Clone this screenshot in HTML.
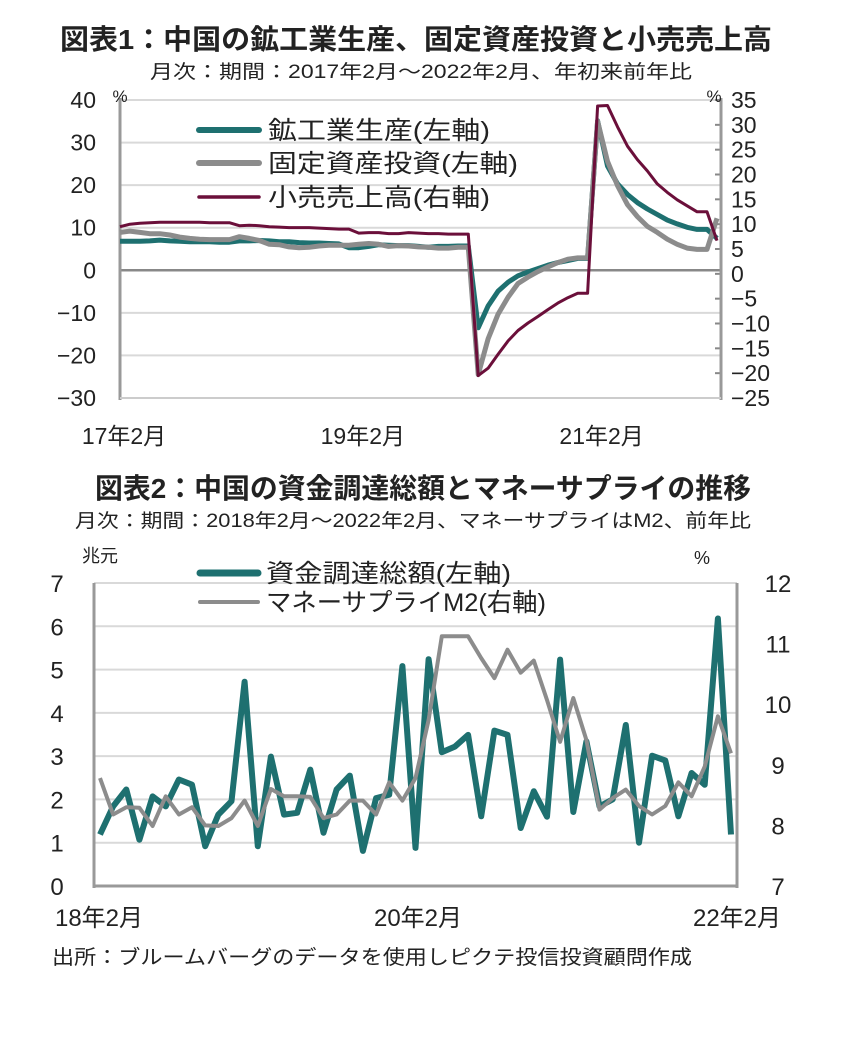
<!DOCTYPE html>
<html><head><meta charset="utf-8">
<style>
body{margin:0;background:#fff;}
svg{display:block;font-family:"Liberation Sans","Noto Sans CJK JP",sans-serif;}
</style></head>
<body>
<svg id="c" width="854" height="1052" viewBox="0 0 854 1052">
<text x="60" y="49" textLength="712" lengthAdjust="spacingAndGlyphs" font-size="28" font-weight="bold" fill="#222">図表1：中国の鉱工業生産、固定資産投資と小売売上高</text>
<text x="150" y="78" textLength="542" lengthAdjust="spacingAndGlyphs" font-size="19" fill="#222">月次：期間：2017年2月～2022年2月、年初来前年比</text>
<text x="95" y="498" textLength="656" lengthAdjust="spacingAndGlyphs" font-size="28" font-weight="bold" fill="#222">図表2：中国の資金調達総額とマネーサプライの推移</text>
<text x="75" y="527" textLength="676" lengthAdjust="spacingAndGlyphs" font-size="19" fill="#222">月次：期間：2018年2月～2022年2月、マネーサプライはM2、前年比</text>
<text x="52" y="964" textLength="640" lengthAdjust="spacingAndGlyphs" font-size="20" fill="#222">出所：ブルームバーグのデータを使用しピクテ投信投資顧問作成</text>
<g id="g1"></g><g id="g2"></g>
</svg>
<script>
// Chart 1 data (monthly, index 0 = 2017-02)
const c1XTicks = ["17年2月","19年2月","21年2月"];
const c1XTickIdx = [0,24,48];
const c1LeftTicks = [40,30,20,10,0,-10,-20,-30];
const c1RightTicks = [35,30,25,20,15,10,5,0,-5,-10,-15,-20,-25];
const industrial = [6.8,6.8,6.8,6.9,7.1,6.9,6.8,6.7,6.7,6.7,6.6, 6.6,6.9,6.9,7.0,6.9,6.7,6.7,6.5,6.4,6.4,6.3,6.2, 5.3,5.3,5.6,6.0,5.9,5.8,5.8,5.6,5.4,5.6,5.6,5.7, 5.7,-13.5,-8.4,-4.9,-2.8,-1.3,-0.4,0.4,1.2,1.8,2.3,2.8,2.8, 35.1,24.5,20.3,17.8,15.9,14.4,13.1,11.8,10.9,10.1,9.6,9.6,7.5];
const fixedInv = [8.9,9.2,8.9,8.6,8.6,8.3,7.8,7.5,7.3,7.2,7.2, 7.2,7.9,7.5,7.0,6.1,6.0,5.5,5.3,5.4,5.7,5.9,5.9, 5.9,6.1,6.3,6.1,5.6,5.8,5.7,5.5,5.4,5.2,5.2,5.4, 5.4,-24.5,-16.1,-10.3,-6.3,-3.1,-1.6,-0.3,0.8,1.8,2.6,2.9,2.9, 35.0,25.6,19.9,15.4,12.6,10.3,8.9,7.3,6.1,5.2,4.9,4.9,12.2];
const retail = [9.5,10.0,10.2,10.3,10.4,10.4,10.4,10.4,10.4,10.3,10.3, 10.3,9.7,9.8,9.7,9.5,9.4,9.3,9.3,9.3,9.2,9.1,9.0, 9.0,8.2,8.3,8.3,8.1,8.1,8.3,8.2,8.1,8.1,8.0,8.0, 8.0,-20.5,-19.0,-16.2,-13.5,-11.4,-9.9,-8.6,-7.2,-5.9,-4.8,-3.9,-3.9, 33.8,33.9,29.6,25.7,23.0,20.7,18.1,16.4,14.9,13.7,12.5,12.5,6.7];
// Chart 2 data (monthly, index 0 = 2018-02)
const c2XTicks = ["18年2月","20年2月","22年2月"];
const c2XTickIdx = [0,24,48];
const c2LeftTicks = [0,1,2,3,4,5,6,7];
const c2RightTicks = [7,8,9,10,11,12];
const financing = [1.19,1.84,2.23,1.07,2.07,1.84,2.46,2.34,0.92,1.65,1.96,4.72,0.92,2.99,1.65,1.69,2.69,1.23,2.23,2.55,0.81,2.03,2.11,5.08,0.88,5.24,3.09,3.22,3.49,1.61,3.59,3.49,1.34,2.19,1.6,5.23,1.71,3.34,1.84,2.0,3.72,1.0,3.01,2.9,1.61,2.61,2.34,6.18,1.19];
const m2 = [8.78,8.18,8.3,8.29,7.99,8.48,8.18,8.3,8.0,7.99,8.12,8.41,7.99,8.6,8.48,8.48,8.47,8.12,8.18,8.41,8.41,8.18,8.71,8.41,8.78,9.74,11.12,11.12,11.12,10.76,10.43,10.9,10.52,10.72,10.07,9.38,10.1,9.41,8.26,8.45,8.59,8.32,8.18,8.32,8.71,8.48,8.97,9.8,9.19];

const NS="http://www.w3.org/2000/svg";
function mk(parent,tag,attrs){const e=document.createElementNS(NS,tag);for(const k in attrs)e.setAttribute(k,attrs[k]);parent.appendChild(e);return e;}
function lin(d0,d1,r0,r1){return v=>r0+(v-d0)*(r1-r0)/(d1-d0);}

// ---- Chart 1 ----
const g1=document.getElementById('g1');
const x1=lin(0,60,120,717), yL1=lin(-30,40,398,100), yR1=lin(-25,35,398,100);
c1LeftTicks.forEach(t=>{
  if(t!==0){const l=mk(g1,'line',{x1:120,x2:721,y1:yL1(t),y2:yL1(t),stroke:'#d9d9d9','stroke-width':2});
  
  }
  const tx=mk(g1,'text',{x:96,y:yL1(t)+8,'text-anchor':'end','font-size':23,fill:'#222'});tx.textContent=t<0?'−'+(-t):t;
  
  
});
c1RightTicks.forEach(t=>{
  const tk=mk(g1,'line',{x1:715,x2:721,y1:yR1(t),y2:yR1(t),stroke:'#888','stroke-width':2});
  
  
  const tx=mk(g1,'text',{x:731,y:yR1(t)+8,'font-size':23,fill:'#222'});tx.textContent=t<0?'−'+(-t):t;
  
  
});
[['line',{x1:120,x2:721,y1:yL1(0),y2:yL1(0),stroke:'#888','stroke-width':2.5},'zero-line'],
 ['line',{x1:120,x2:120,y1:98,y2:400,stroke:'#999','stroke-width':3},'left-axis'],
 ['line',{x1:721,x2:721,y1:98,y2:400,stroke:'#999','stroke-width':3},'right-axis'],
 ['line',{x1:120,x2:721,y1:398,y2:398,stroke:'#ccc','stroke-width':2},'bottom-axis']].forEach(a=>{
  const e=mk(g1,a[0],a[1]);
  
  
});
c1XTicks.forEach((s,i)=>{
  const tx=mk(g1,'text',{x:x1(c1XTickIdx[i])+4,y:444,'text-anchor':'middle','font-size':23,fill:'#222'});tx.textContent=s;
  
  
});
[['%',120],['%',714]].forEach(p=>{const tx=mk(g1,'text',{x:p[1],y:102,'text-anchor':'middle','font-size':17,fill:'#222'});tx.textContent=p[0];
  
  });
function series(g,data,xs,ys,color,w,name){
  const d=data.map((v,i)=>(i?'L':'M')+xs(i).toFixed(1)+','+ys(v).toFixed(1)).join('');
  const p=mk(g,'path',{d:d,fill:'none',stroke:color,'stroke-width':w,'stroke-linejoin':'round'});
  
  
}
series(g1,industrial,x1,yL1,'#1e7070',5,'industrial-production-line');
series(g1,fixedInv,x1,yL1,'#8c8c8c',5,'fixed-investment-line');
series(g1,retail,x1,yR1,'#6b0f3a',3,'retail-sales-line');
[['#1e7070',6,'鉱工業生産(左軸)',130,222],['#8c8c8c',6,'固定資産投資(左軸)',163,250],['#6b0f3a',3.5,'小売売上高(右軸)',197,222]].forEach(l=>{
  const ln=mk(g1,'line',{x1:199,x2:259,y1:l[3],y2:l[3],stroke:l[0],'stroke-width':l[1],'stroke-linecap':'round'});
  
  
  const tx=mk(g1,'text',{x:268,y:l[3]+9,'font-size':25,fill:'#222',textLength:l[4],lengthAdjust:'spacingAndGlyphs'});tx.textContent=l[2];
  
  
});

// ---- Chart 2 ----
const g2=document.getElementById('g2');
const x2=lin(0,48,100,731), yL2=lin(0,7,886,583), yR2=lin(7,12,886,583);
c2LeftTicks.forEach(t=>{
  if(t>0){const l=mk(g2,'line',{x1:94,x2:737,y1:yL2(t),y2:yL2(t),stroke:'#d9d9d9','stroke-width':2});
  
  }
  const tx=mk(g2,'text',{x:57,y:yL2(t)+9,'text-anchor':'middle','font-size':24,fill:'#222'});tx.textContent=t;
  
  
});
c2RightTicks.forEach(t=>{
  const tx=mk(g2,'text',{x:778,y:yR2(t)+9,'text-anchor':'middle','font-size':24,fill:'#222'});tx.textContent=t;
  
  
});
[['line',{x1:94,x2:94,y1:583,y2:888,stroke:'#999','stroke-width':3},'left-axis'],
 ['line',{x1:737,x2:737,y1:583,y2:888,stroke:'#999','stroke-width':3},'right-axis'],
 ['line',{x1:94,x2:737,y1:886,y2:886,stroke:'#999','stroke-width':3},'bottom-axis']].forEach(a=>{
  const e=mk(g2,a[0],a[1]);
  
  
});
c2XTicks.forEach((s,i)=>{
  const xx=i===0?99:(i===1?418:737);
  const tx=mk(g2,'text',{x:xx,y:926,'text-anchor':'middle','font-size':24,fill:'#222'});tx.textContent=s;
  
  
});
[['兆元',100,562],['%',702,564]].forEach(p=>{const tx=mk(g2,'text',{x:p[1],y:p[2],'text-anchor':'middle','font-size':18,fill:'#222'});tx.textContent=p[0];
  
  });
series(g2,financing,x2,yL2,'#1e7070',6,'total-financing-line');
series(g2,m2,x2,yR2,'#8c8c8c',4,'money-supply-m2-line');
[['#1e7070',7,'資金調達総額(左軸)',573,245],['#8c8c8c',4,'マネーサプライM2(右軸)',602,280]].forEach(l=>{
  const ln=mk(g2,'line',{x1:200,x2:258,y1:l[3],y2:l[3],stroke:l[0],'stroke-width':l[1],'stroke-linecap':'round'});
  
  
  const tx=mk(g2,'text',{x:266,y:l[3]+9,'font-size':25,fill:'#222',textLength:l[4],lengthAdjust:'spacingAndGlyphs'});tx.textContent=l[2];
  
  
});
</script>
</body></html>
